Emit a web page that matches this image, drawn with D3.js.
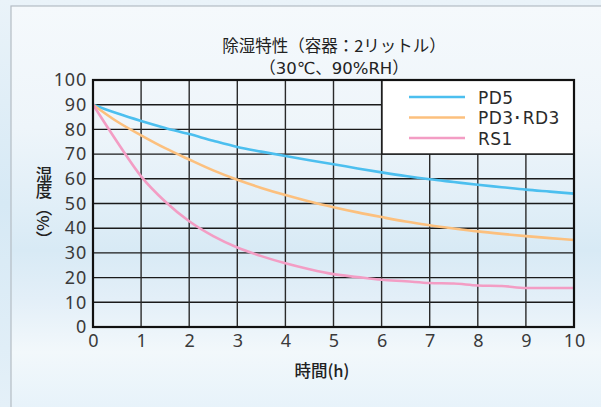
<!DOCTYPE html>
<html><head><meta charset="utf-8">
<script src="https://cdn.jsdelivr.net/npm/d3@7"></script>
<style>
html,body{margin:0;padding:0;background:#e6f1f9;}
svg{display:block;}
</style></head>
<body>
<svg id="chart" width="601" height="407"></svg>
<script>
const hours = [0,0.5,1,1.5,2,2.5,3,3.5,4,4.5,5,5.5,6,6.5,7,7.5,8,8.5,9,9.5,10];
const pd5   = [90,86.5,83.4,80.6,78.1,75.4,72.9,71.0,69.2,67.5,65.9,64.2,62.6,61.1,59.8,58.7,57.6,56.6,55.6,54.8,54.0];
const pd3   = [90,83.2,77.6,72.4,67.8,63.4,59.6,56.3,53.4,50.8,48.5,46.4,44.5,42.7,41.2,39.9,38.7,37.7,36.8,36.0,35.2];
const rs1   = [90,75.0,61.0,50.8,42.8,36.8,32.2,28.7,25.8,23.4,21.4,20.2,19.1,18.5,17.8,17.6,16.8,16.6,15.8,15.8,15.8];
const seriesNames = ["PD5","PD3･RD3","RS1"];
const seriesColors = ["#4cbfef","#fcc07e","#f39dc4"];
const xTicks = [0,1,2,3,4,5,6,7,8,9,10];
const yTicks = [0,10,20,30,40,50,60,70,80,90,100];
const titleLines = ["除湿特性（容器：2リットル）","（30℃、90%RH）"];
const xTitle = "時間(h)";
const yTitle = "湿度（%）";

const svg = d3.select("#chart");
const W = 601, H = 407;
const m = {left:93, right:27, top:80, bottom:80};
const x = d3.scaleLinear().domain([0,10]).range([m.left, W - m.right]);
const y = d3.scaleLinear().domain([0,100]).range([H - m.bottom, m.top]);

// background
const defs = svg.append("defs");
const g1 = defs.append("linearGradient").attr("id","bg").attr("x1",0).attr("y1",0).attr("x2",0).attr("y2",1);
[[0,"#f5f9fc"],[0.3,"#eef5fa"],[0.5,"#e0eef7"],[0.6,"#d8eaf5"],[0.72,"#e3eff8"],[0.85,"#f2f8fb"],[1,"#e6f2fa"]]
  .forEach(([o,c]) => g1.append("stop").attr("offset",o).attr("stop-color",c));
const g2 = defs.append("linearGradient").attr("id","side").attr("x1",0).attr("y1",0).attr("x2",0).attr("y2",1);
[[0,"#eaf3f9"],[0.5,"#d6e9f5"],[1,"#e4f0f8"]]
  .forEach(([o,c]) => g2.append("stop").attr("offset",o).attr("stop-color",c));
svg.append("rect").attr("width",W).attr("height",H).attr("fill","url(#side)");
svg.append("rect").attr("x",11).attr("y",6).attr("width",W).attr("height",H)
  .attr("fill","url(#bg)").attr("stroke","#b4bcc4").attr("stroke-width",1.2);

// title
svg.append("g").selectAll("text").data(titleLines).join("text")
  .attr("x", 334).attr("y",(d,i)=>52 + i*22)
  .attr("text-anchor","middle")
  .attr("font-family",(d,i)=> i===0 ? "'Noto Sans CJK JP',sans-serif" : "'DejaVu Sans','Noto Sans CJK JP',sans-serif")
  .attr("font-size",16.5)
  .attr("fill","#222")
  .text(d=>d);

// grid
const grid = svg.append("g");
grid.selectAll("line.h").data(yTicks.slice(1,-1)).join("line")
  .attr("x1",x(0)).attr("x2",x(10)).attr("y1",d=>y(d)).attr("y2",d=>y(d))
  .attr("stroke","#1a1a1a").attr("stroke-width",1.4);
grid.selectAll("line.v").data(xTicks.slice(1,-1)).join("line")
  .attr("y1",y(0)).attr("y2",y(100)).attr("x1",d=>x(d)).attr("x2",d=>x(d))
  .attr("stroke","#2a2a2a").attr("stroke-width",1.4);

// axes (labels)
const tickFont = "'Noto Sans',sans-serif";
const xAxis = svg.append("g").attr("transform",`translate(0,${y(0)})`)
  .call(d3.axisBottom(x).tickValues(xTicks).tickSize(0).tickPadding(7).tickFormat(d3.format("d")));
xAxis.select(".domain").remove();
xAxis.selectAll("text").attr("font-family",tickFont).attr("font-size",18).attr("letter-spacing",0.8)
  .attr("dx",0.4).attr("fill","#3a3a3a");
const yAxis = svg.append("g").attr("transform",`translate(${x(0)},0)`)
  .call(d3.axisLeft(y).tickValues(yTicks).tickSize(0).tickPadding(6).tickFormat(d3.format("d")));
yAxis.select(".domain").remove();
yAxis.selectAll("text").attr("font-family",tickFont).attr("font-size",18).attr("letter-spacing",0.8)
  .attr("fill","#3a3a3a");

// axis titles
svg.append("text").attr("x", 322).attr("y", 377).attr("text-anchor","middle")
  .attr("font-family","'Noto Sans CJK JP',sans-serif").attr("font-size",16.5).attr("font-weight",500)
  .attr("fill","#222").text(xTitle);
svg.append("text").attr("x", 44).attr("y", 166)
  .attr("style","writing-mode: vertical-rl; text-orientation: mixed;")
  .attr("font-family","'Noto Sans CJK JP',sans-serif").attr("font-size",16.5).attr("font-weight",500)
  .attr("fill","#222").text(yTitle);

// lines
const allSeries = [pd5,pd3,rs1];
const line = d3.line().x((d,i)=>x(hours[i])).y(d=>y(d)).curve(d3.curveMonotoneX);
svg.append("g").selectAll("path").data(allSeries).join("path")
  .attr("d", d=>line(d)).attr("fill","none")
  .attr("stroke",(d,i)=>seriesColors[i]).attr("stroke-width",2.6);

// legend
const lg = svg.append("g");
lg.append("rect").attr("x",382).attr("y",y(100)).attr("width",x(10)-382).attr("height",74)
  .attr("fill","#fff").attr("stroke","#1a1a1a").attr("stroke-width",1.4);
const items = lg.selectAll("g.item").data(seriesNames).join("g")
  .attr("transform",(d,i)=>`translate(0,${97 + i*20.5})`);
items.append("line").attr("x1",409).attr("x2",465).attr("y1",0).attr("y2",0)
  .attr("stroke",(d,i)=>seriesColors[i]).attr("stroke-width",2.6);
items.append("text").attr("x",478).attr("y",6.5)
  .attr("font-family","'DejaVu Sans',sans-serif").attr("font-size",17).attr("letter-spacing",0.4)
  .attr("fill","#2a2a2a").text(d=>d);

// frame
svg.append("rect").attr("x",x(0)).attr("y",y(100)).attr("width",x(10)-x(0)).attr("height",y(0)-y(100))
  .attr("fill","none").attr("stroke","#111").attr("stroke-width",2.2);
</script>
</body></html>
